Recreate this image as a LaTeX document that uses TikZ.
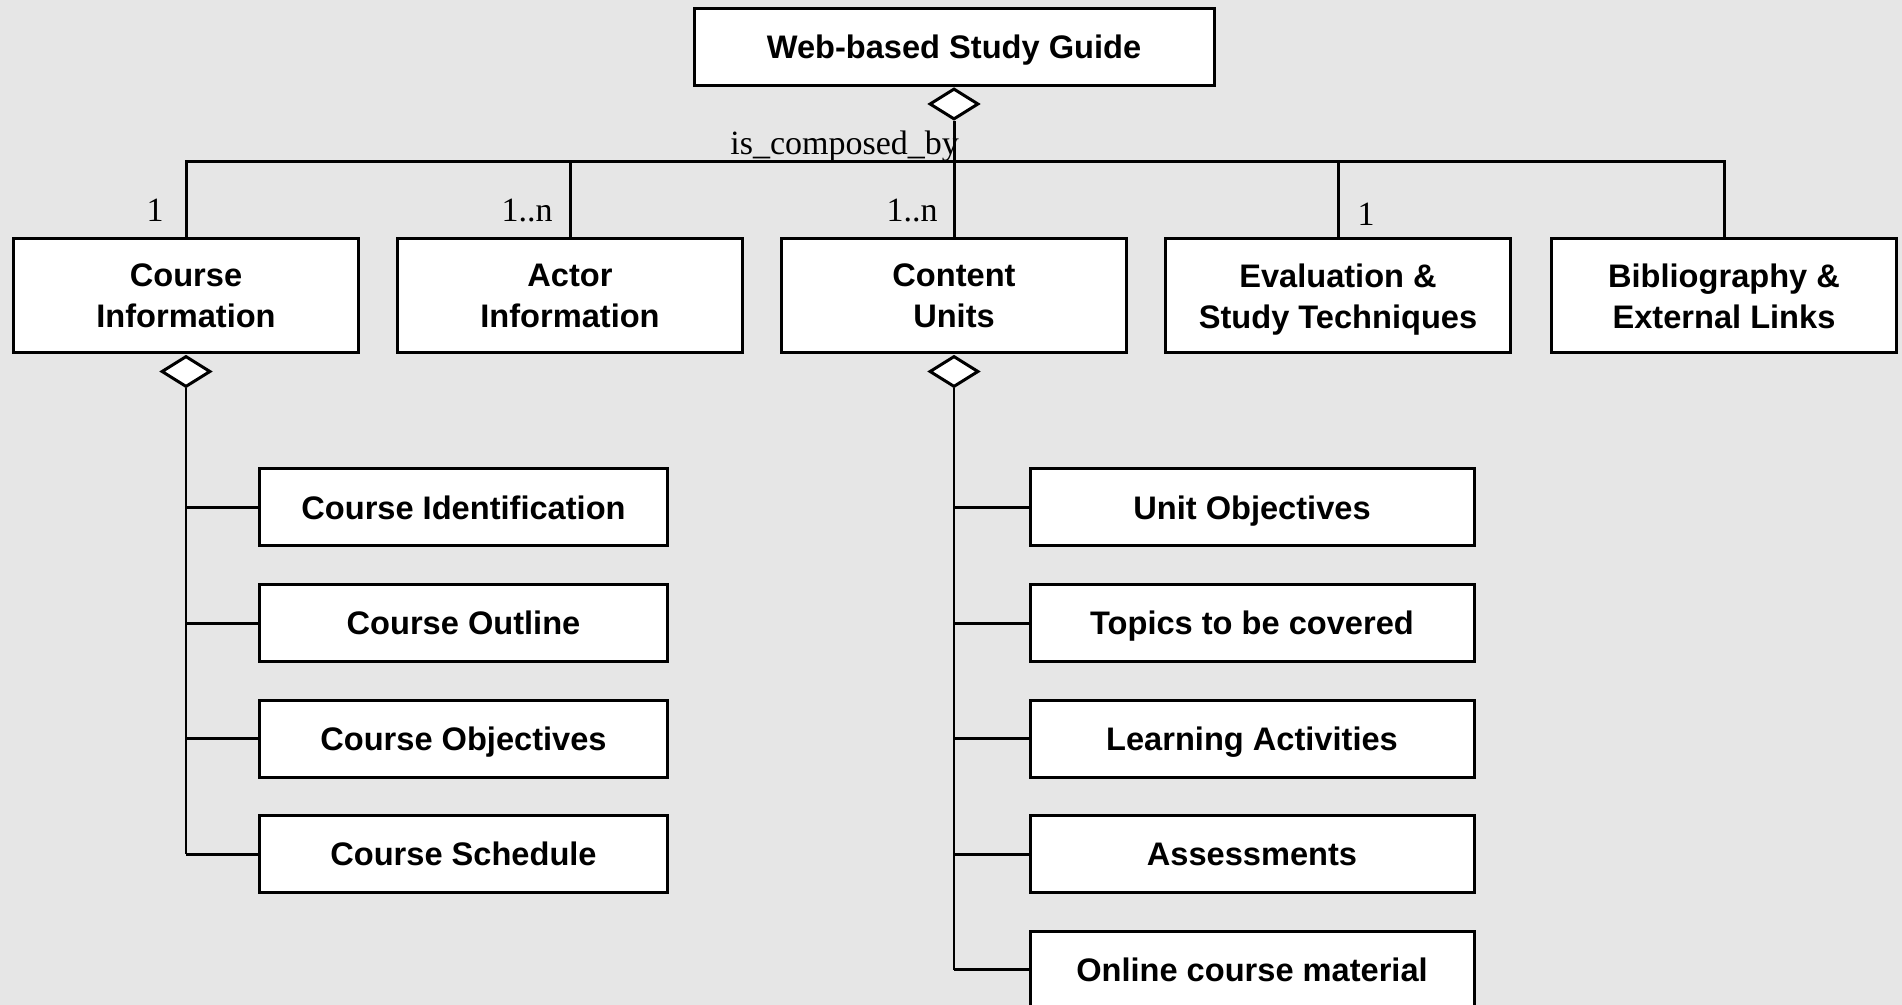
\documentclass[tikz,border=0pt]{standalone}
\usepackage{fontspec}
\setmainfont{Liberation Serif}
\setsansfont{Liberation Sans}
\usetikzlibrary{shapes.geometric}
\definecolor{bg}{RGB}{230,230,230}
\begin{document}
\begin{tikzpicture}[x=0.5pt,y=-0.5pt,
  box/.style={draw, line width=1.5pt, fill=white, font=\sffamily\bfseries\fontsize{16.3}{20.5}\selectfont, align=center, inner sep=0pt},
  big/.style={box, minimum width=172.5pt, minimum height=57pt, text depth=0pt},
  one/.style={box, minimum height=38.5pt, text height=15.7pt, text depth=4pt},
  subl/.style={one, minimum width=204pt},
  subr/.style={one, minimum width=222pt},
  agg/.style={draw, diamond, line width=1.5pt, fill=white, inner sep=0pt, minimum width=24.5pt, minimum height=15.5pt},
  lbl/.style={font=\fontsize{17}{20}\selectfont, inner sep=0pt},
  wire/.style={line width=1.5pt},
  thinwire/.style={line width=1pt}]
\useasboundingbox (0,0) rectangle (1902,1005);
\clip (0,0) rectangle (1902,1005);
\fill[bg] (0,0) rectangle (1902,1005);

% top
\node[one, minimum width=260pt] (top) at (954,47) {Web-based Study Guide};

% main parts
\node[big] (ci) at (186,296) {Course\\Information};
\node[big] (ai) at (570,296) {Actor\\Information};
\node[big] (cu) at (954,296) {Content\\Units};
\node[big] (ev) at (1338,296) {Evaluation \&\\Study Techniques};
\node[big] (bb) at (1724,296) {Bibliography \&\\External Links};

\coordinate (bus) at (954,161.5);

% left sub parts
\node[subl] (c1) at (463.5,507.5) {Course Identification};
\node[subl] (c2) at (463.5,623) {Course Outline};
\node[subl] (c3) at (463.5,738.5) {Course Objectives};
\node[subl] (c4) at (463.5,854) {Course Schedule};

% right sub parts
\node[subr] (u1) at (1252,507.5) {Unit Objectives};
\node[subr] (u2) at (1252,623) {Topics to be covered};
\node[subr] (u3) at (1252,738.5) {Learning Activities};
\node[subr] (u4) at (1252,854) {Assessments};
\node[subr] (u5) at (1252,969.5) {Online course material};

% bus connectors
\draw[wire] (ci.north) -- (ci.north |- bus) -- (bb.north |- bus) -- (bb.north);
\draw[wire] (ai.north) -- (ai.north |- bus);
\draw[wire] (ev.north) -- (ev.north |- bus);

% sub trees
\node[agg, anchor=north] (d1) at (ci.south) {};
\node[agg, anchor=north] (d2) at (cu.south) {};
\draw[thinwire] (d1.south) -- (d1.south |- c4.west);
\draw[thinwire] (d2.south) -- (d2.south |- u5.west);
\foreach \n in {c1,c2,c3,c4} \draw[wire] (d1.south |- \n.west) -- (\n.west);
\foreach \n in {u1,u2,u3,u4,u5} \draw[wire] (d2.south |- \n.west) -- (\n.west);

% top aggregation
\node[agg, anchor=north] (d0) at (top.south) {};
\draw[wire] (d0.south) -- (cu.north);

% labels
\node[lbl, anchor=base west] (lc) at (730,155) {is\_composed\_by};
\node[lbl, anchor=base] (m1) at (155,222) {1};
\node[lbl, anchor=base] (m2) at (527,222) {1..n};
\node[lbl, anchor=base] (m3) at (912,222) {1..n};
\node[lbl, anchor=base] (m4) at (1366,226) {1};
\end{tikzpicture}
\end{document}
